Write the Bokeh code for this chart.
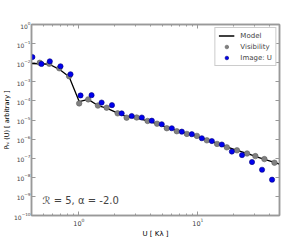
from bokeh.plotting import figure
from bokeh.models import (LogAxis, FixedTicker, LogTickFormatter, Legend, LegendItem,
                          Label)
from bokeh.embed import file_html
from bokeh.resources import INLINE

# ---- data ----
model_u = [0.402, 0.469, 0.564, 0.685, 0.828, 1.006, 1.198, 1.446, 1.712, 2.118, 2.52, 3.06,
           3.78, 4.54, 5.48, 6.65, 8.08, 9.81, 11.9, 14.5, 17.5, 21.3, 25.9, 30.4, 36.2, 44.0, 48.5]
model_p = [9.0e-3, 8.8e-3, 8.3e-3, 4.5e-3, 1.85e-3, 9.2e-5, 1.2e-4, 5.7e-5, 4.2e-5, 2.3e-5,
           1.52e-5, 1.27e-5, 8.9e-6, 6.2e-6, 4.07e-6, 2.84e-6, 1.98e-6, 1.38e-6, 9.1e-7, 5.97e-7,
           3.9e-7, 2.58e-7, 1.8e-7, 1.26e-7, 8.8e-8, 6.1e-8, 4.9e-8]

vis_u = [0.469, 0.564, 0.685, 0.828, 1.006, 1.198, 1.446, 1.712, 2.118, 2.52, 3.06, 3.78,
         4.54, 5.48, 6.65, 8.08, 9.81, 11.9, 14.5, 17.5, 21.3, 25.9, 30.4, 36.2, 44.0]
vis_p = [9.9e-3, 8.8e-3, 5.1e-3, 1.96e-3, 7.4e-5, 1.2e-4, 5.7e-5, 4.4e-5, 2.23e-5, 1.32e-5,
         1.35e-5, 8.9e-6, 6.4e-6, 3.7e-6, 2.58e-6, 1.87e-6, 1.47e-6, 8.6e-7, 5.6e-7, 3.7e-7,
         2.58e-7, 1.76e-7, 1.29e-7, 9.0e-8, 5.8e-8]

img_u = [0.407, 0.485, 0.570, 0.701, 0.851, 1.033, 1.279, 1.553, 1.897, 2.29, 2.78, 3.38,
         4.10, 4.97, 6.04, 7.33, 8.90, 10.8, 13.1, 15.9, 19.3, 23.5, 28.5, 34.6, 42.0]
img_p = [1.98e-2, 8.6e-3, 1.18e-2, 6.5e-3, 2.49e-3, 1.93e-4, 2.0e-4, 8.2e-5, 6.0e-5, 2.23e-5,
         1.62e-5, 1.35e-5, 9.2e-6, 6.0e-6, 3.7e-6, 2.46e-6, 1.80e-6, 1.11e-6, 7.9e-7, 5.2e-7,
         2.23e-7, 1.45e-7, 6.3e-8, 2.49e-8, 7.5e-9]

y_ticks = [1e-10, 1e-9, 1e-8, 1e-7, 1e-6, 1e-5, 1e-4, 1e-3, 1e-2, 1e-1, 1e0]
x_ticks = [1, 10]
x_minor = [0.4, 0.5, 0.6, 0.7, 0.8, 0.9, 2, 3, 4, 5, 6, 7, 8, 9, 20, 30, 40]

FONT = "DejaVu Sans"
FRAME = "#999999"

p = figure(width=281, height=240, x_axis_type="log", y_axis_type="log",
           x_range=(0.4, 48.5), y_range=(1e-10, 1.0),
           output_backend="svg", toolbar_location=None,
           min_border_left=0, min_border_right=2, min_border_top=24, min_border_bottom=0,
           background_fill_color="white", border_fill_color="white")
p.grid.visible = False
p.outline_line_color = FRAME
p.outline_line_width = 1.5

def style(ax, labels=True):
    ax.axis_line_color = FRAME
    ax.axis_line_width = 1.5
    ax.major_tick_line_color = FRAME
    ax.minor_tick_line_color = FRAME
    ax.major_tick_in = 4
    ax.major_tick_out = 0
    ax.minor_tick_in = 2
    ax.minor_tick_out = 0
    ax.major_label_text_font = FONT
    ax.axis_label_text_font = FONT
    ax.axis_label_text_font_style = "normal"
    ax.axis_label_text_color = "black"
    if labels:
        ax.major_label_text_font_size = "6.5px"
        ax.axis_label_text_font_size = "7px"
        ax.major_label_standoff = 2
        ax.axis_label_standoff = 1
    else:
        ax.major_label_text_font_size = "1px"
        ax.major_label_text_alpha = 0
        ax.major_label_standoff = 0

xt = FixedTicker(ticks=x_ticks, minor_ticks=x_minor)
yt = FixedTicker(ticks=y_ticks, minor_ticks=[])

p.xaxis.ticker = xt
p.yaxis.ticker = yt
p.xaxis.formatter = LogTickFormatter()
p.yaxis.formatter = LogTickFormatter()
p.xaxis.axis_label = "U [ Kλ ]"
p.yaxis.axis_label = "Pₕᵢ (U) [ arbitrary ]"
style(p.xaxis[0])
style(p.yaxis[0])
p.yaxis.axis_label_standoff = 0
p.yaxis.major_label_standoff = 1
p.yaxis.major_label_text_font_size = "6px"
p.yaxis.axis_label_text_font_size = "6.5px"

top = LogAxis(ticker=FixedTicker(ticks=x_ticks, minor_ticks=x_minor), formatter=LogTickFormatter())
right = LogAxis(ticker=FixedTicker(ticks=y_ticks, minor_ticks=[]), formatter=LogTickFormatter())
style(top, labels=False)
style(right, labels=False)
p.add_layout(top, "above")
p.add_layout(right, "right")

r_model = p.line(model_u, model_p, line_color="black", line_width=1.3)
r_vis = p.scatter(vis_u, vis_p, size=5.5, fill_color="#808080", line_color="#606060", line_width=0.6)
r_img = p.scatter(img_u, img_p, size=5.2, fill_color="#0000ee", line_color="#00007a", line_width=0.6)

legend = Legend(items=[LegendItem(label="Model", renderers=[r_model]),
                       LegendItem(label="Visibility", renderers=[r_vis]),
                       LegendItem(label="Image: U", renderers=[r_img])],
                location="top_right")
legend.label_text_font = FONT
legend.label_text_font_size = "7px"
legend.label_height = 9
legend.glyph_height = 9
legend.glyph_width = 16
legend.spacing = 2
legend.padding = 3
legend.margin = 3
legend.border_line_color = FRAME
legend.border_line_width = 1.2
legend.label_standoff = 6
p.add_layout(legend)

p.add_layout(Label(x=0.495, y=6e-10, text="ℛ = 5, α = -2.0", text_font=FONT,
                   text_font_size="10px", text_baseline="middle"))

open("out.html", "w").write(file_html(p, INLINE))
